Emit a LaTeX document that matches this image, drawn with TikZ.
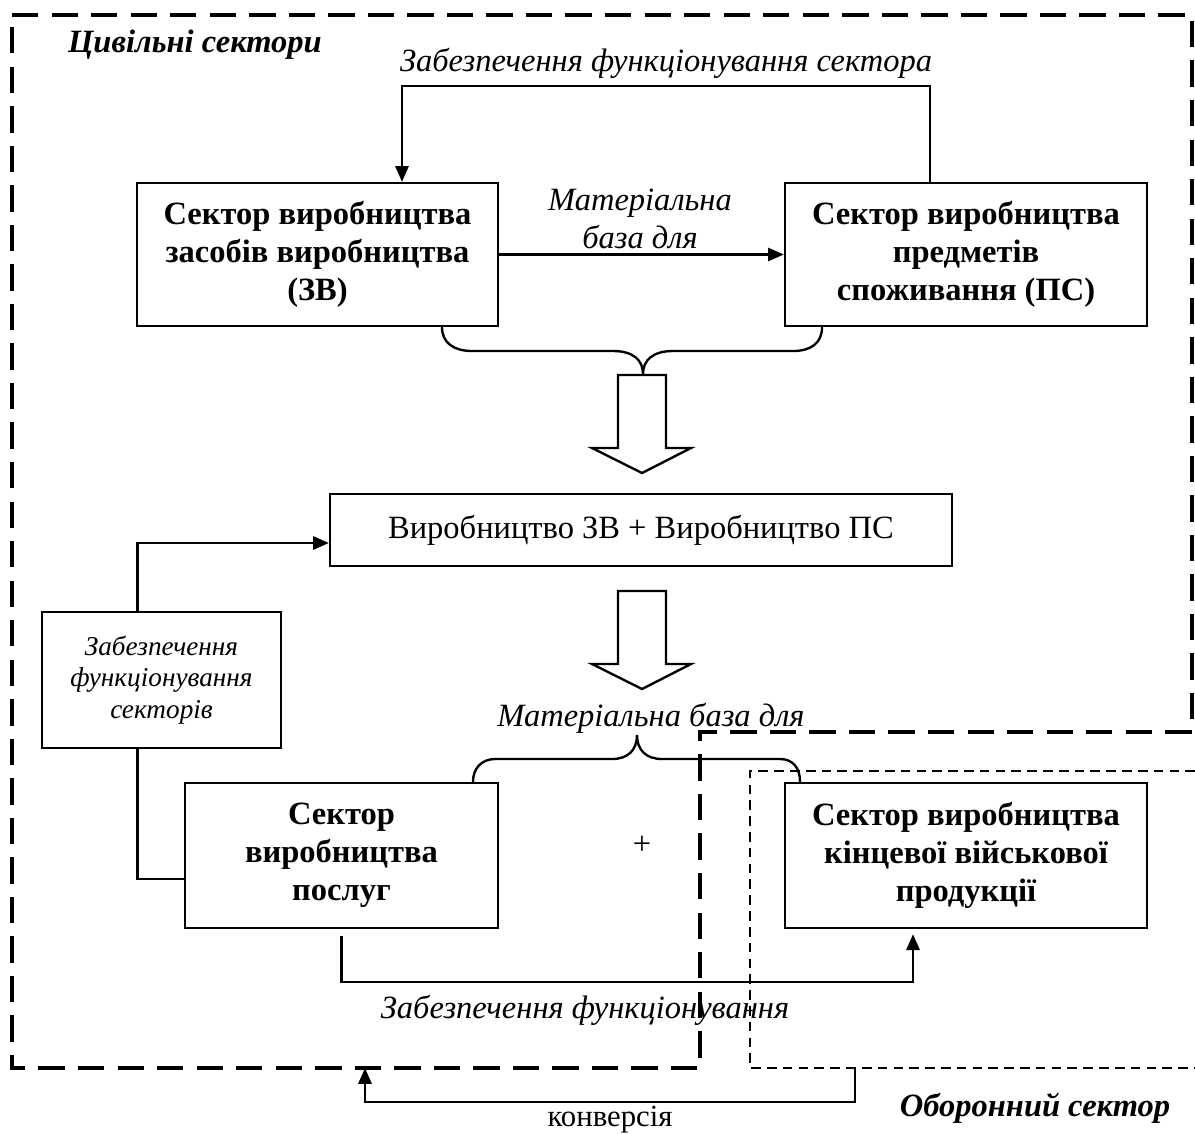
\documentclass[tikz,border=0pt]{standalone}
\usepackage{fontspec}
\setmainfont{Liberation Serif}
\usetikzlibrary{arrows.meta}

\begin{document}
\begin{tikzpicture}
[
    x=0.02cm, y=-0.02cm,
    every node/.style={font=\fontsize{18.5}{21.5}\selectfont},
    con/.style={line width=1.35pt},
    arr/.style={con, -{Triangle[length=9pt,width=7.5pt]}},
    sector/.style={draw, con, align=center, inner sep=0pt, font=\fontsize{18.5}{21.5}\selectfont\bfseries},
    lbl/.style={font=\fontsize{18.5}{21.5}\selectfont\itshape},
    bilbl/.style={font=\fontsize{18.5}{21.5}\selectfont\bfseries\itshape},
    civ/.style={line width=2.2pt, dash pattern=on 15pt off 7.5pt},
    obor/.style={line width=1.1pt, dash pattern=on 5.5pt off 3.5pt},
]
\useasboundingbox (0,0) rectangle (1195,1133);

\draw [civ] (12,15) -- (1192,15) -- (1192,732) -- (700,732) -- (700,1068) -- (12,1068) -- cycle;
\draw [obor] (1195,771) -- (750,771) -- (750,1068) -- (1195,1068);

\node [bilbl, anchor=base west] (civsek) at (62,52) {Цивільні сектори};
\node [bilbl] (obsek) at (1035,1108) {Оборонний сектор};

\node [sector, minimum width=7.22cm, minimum height=2.86cm] (zv) at (317.5,254.5)
{Сектор виробництва\\засобів виробництва\\(ЗВ)};
\node [sector, minimum width=7.24cm, minimum height=2.86cm] (ps) at (966,254.5)
{Сектор виробництва\\предметів\\споживання (ПС)};
\node [draw, con, minimum width=12.44cm, minimum height=1.44cm] (vyr) at (641,530)
{Виробництво ЗВ + Виробництво ПС};
\node [draw, con, align=center, minimum width=4.78cm, minimum height=2.72cm,
    font=\fontsize{15.5}{18}\selectfont\itshape] (zab) at (161.5,680)
{Забезпечення\\функціонування\\секторів};
\node [sector, minimum width=6.26cm, minimum height=2.9cm] (posl) at (341.5,855.5)
{Сектор\\виробництва\\послуг};
\node [sector, minimum width=7.24cm, minimum height=2.9cm] (vijs) at (966,855.5)
{Сектор виробництва\\кінцевої військової\\продукції};

\node [lbl] (zabsek) at (666,63) {Забезпечення функціонування сектора};
\node [lbl, align=center] (mat1) at (640,219) {Матеріальна\\база для};
\node [lbl] (mat2) at (651,718) {Матеріальна база для};
\node (plus) at (642,845) {+};
\node [lbl] (zabf) at (585,1010) {Забезпечення функціонування};
\node [font=\fontsize{17.5}{20}\selectfont, anchor=base] (konv) at (610,1126) {конверсія};

\draw [arr] ([xshift=-0.72cm]ps.north) -- ++(0,-96) -| ([xshift=1.69cm]zv.north);
\draw [arr] (zv) -- (ps);

\draw [con] ([xshift=2.49cm]zv.south) .. controls (442,343) and (454,351) .. (472,351) -- (613,351)
    .. controls (633,351) and (643,360) .. (643,374) .. controls (643,360) and (653,351) .. (673,351)
    -- (793,351) .. controls (811,351) and (822,343) .. ([xshift=-2.88cm]ps.south);

\foreach \t in {375,591}
    \draw [con, line join=miter] (618,\t) -- (666,\t) -- (666,\t+73) -- (691,\t+73) -- (642,\t+98)
        -- (592,\t+73) -- (618,\t+73) -- cycle;

\draw [arr] ([xshift=-0.48cm]zab.north) |- ([yshift=-0.26cm]vyr.west);
\draw [con] ([xshift=-0.48cm]zab.south) |- ([yshift=-0.47cm]posl.west);

\draw [con] ([xshift=2.63cm]posl.north) .. controls (473,768) and (482,759) .. (495,759) -- (612,759)
    .. controls (628,759) and (637,750) .. (637,735) .. controls (637,750) and (646,759) .. (662,759)
    -- (780,759) .. controls (793,759) and (800,768) .. ([xshift=-3.32cm]vijs.north);

\draw [arr] ([yshift=-0.14cm]posl.south) -- ++(0,46) -| ([xshift=-1.06cm,yshift=-0.1cm]vijs.south);

\coordinate (obniz) at (855,1068);
\coordinate (civniz) at (365,1068);
\draw [arr] (obniz) -- ++(0,34) -| (civniz);
\end{tikzpicture}
\end{document}
